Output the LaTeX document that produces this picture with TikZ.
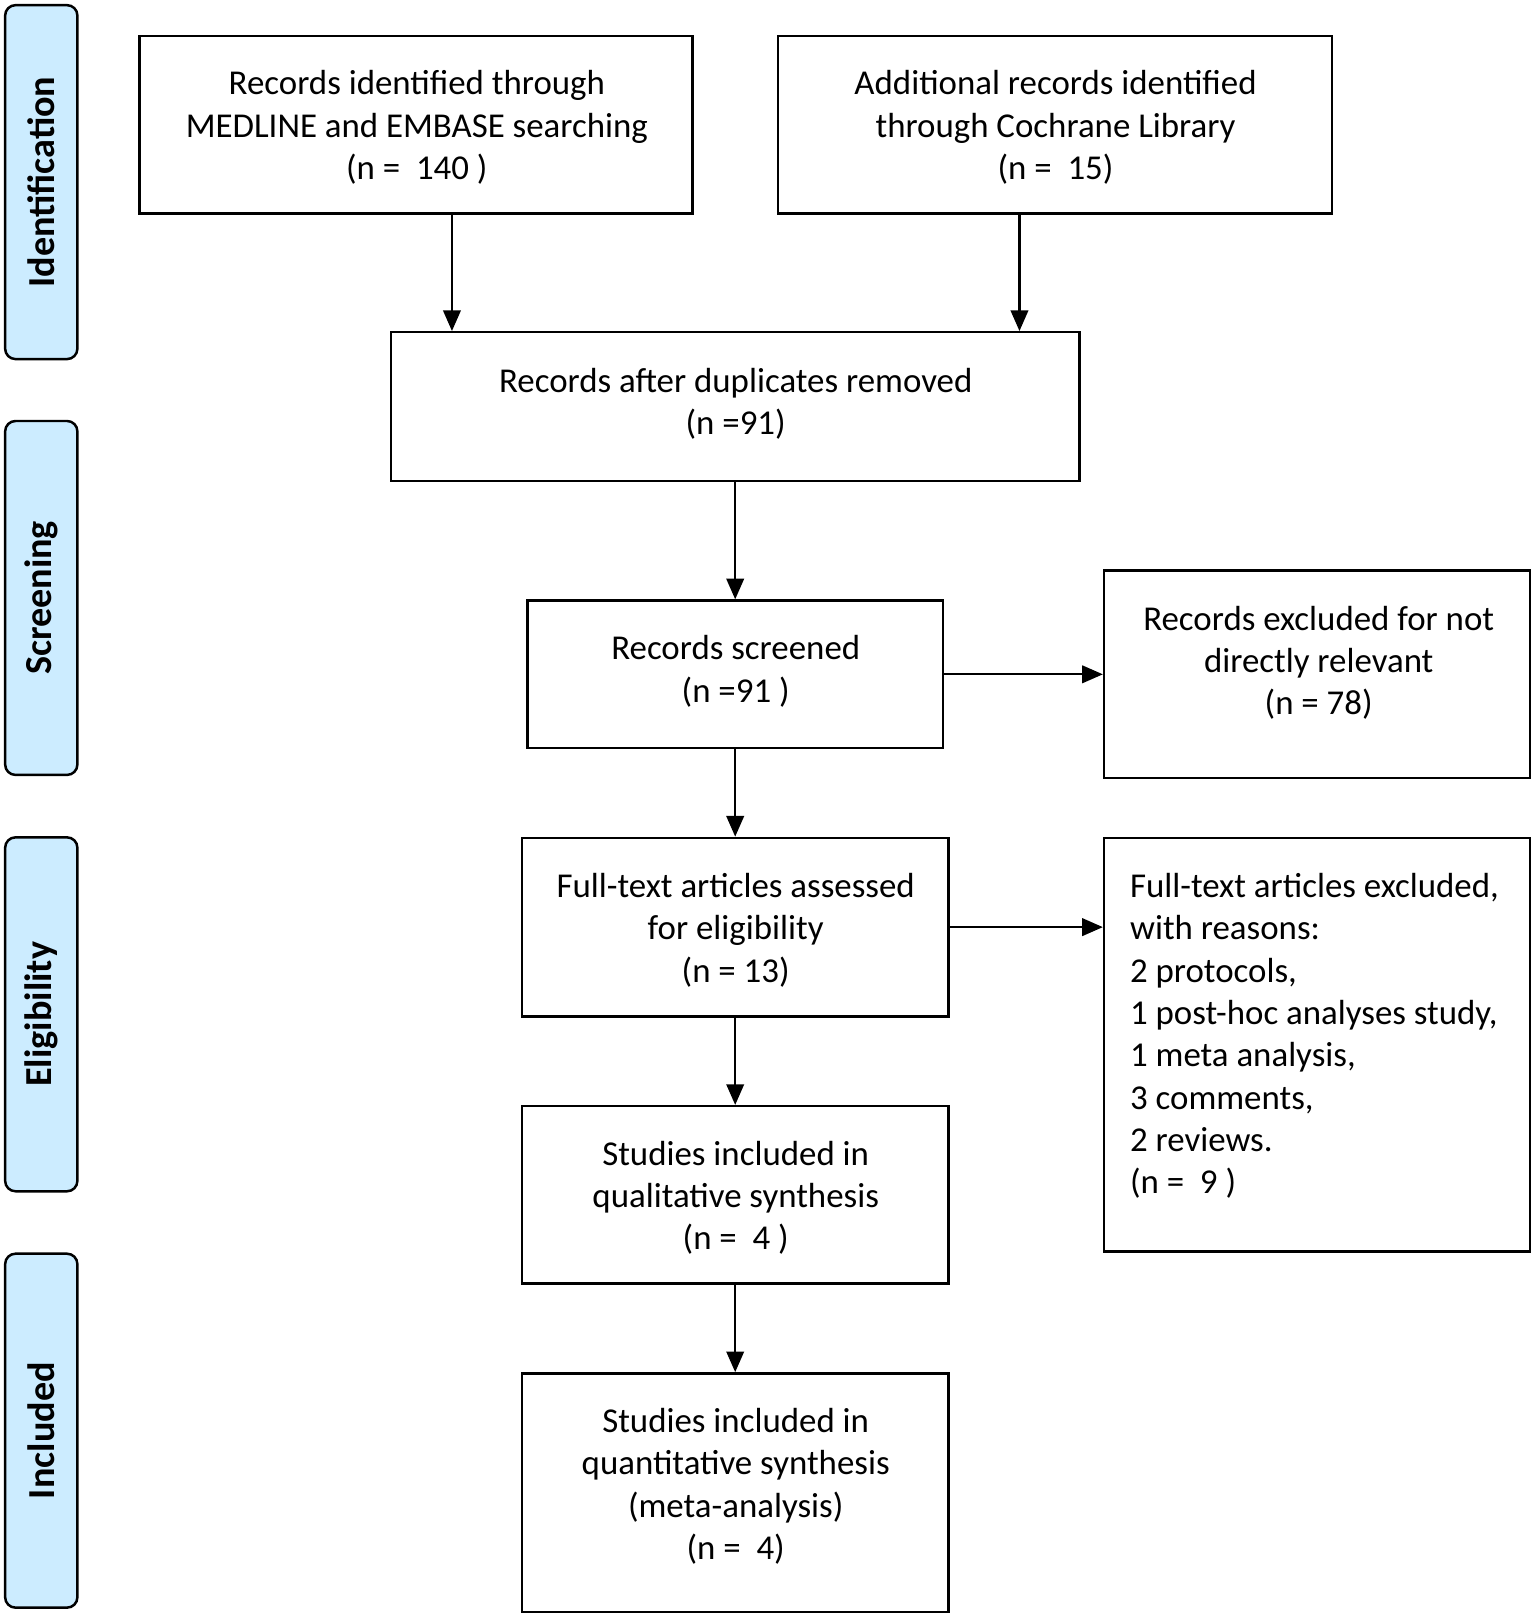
\documentclass[tikz,border=0pt]{standalone}
\usepackage{fontspec}
\setmainfont{Carlito}
\usetikzlibrary{arrows.meta}
\definecolor{sideblue}{RGB}{204,236,255}
\begin{document}
\begin{tikzpicture}[x=1pt,y=-1pt,
  box/.style={draw,line width=2.4pt,inner sep=0pt,rectangle},
  txt/.style={inner sep=0pt,align=center,font=\fontsize{33.8pt}{41pt}\selectfont},
  ltxt/.style={inner sep=0pt,align=left,anchor=west,font=\fontsize{33.8pt}{41pt}\selectfont},
  side/.style={draw,line width=2.4pt,fill=sideblue,rounded corners=10pt,rotate=90,
    minimum width=343pt,minimum height=70pt,inner sep=0pt,
    font=\bfseries\fontsize{37pt}{44pt}\selectfont},
  arr/.style={line width=2pt,-{Triangle[length=20pt,width=17pt]}}]
\useasboundingbox (0,0) rectangle (1488,1570);
% side labels
\node[side] (s1) at (40,176.5) {Identification};
\node[side] (s2) at (40,579.5) {Screening};
\node[side] (s3) at (40,983) {Eligibility};
\node[side] (s4) at (40,1386.5) {Included};
% boxes
\node[box,minimum width=536pt,minimum height=172pt] (a) at (403,121) {};
\node[txt] (at) at (404,123.5) {Records identified through\\MEDLINE and EMBASE searching\\(n =\ \ 140 )};
\node[box,minimum width=537pt,minimum height=172pt] (b) at (1022.5,121) {};
\node[txt] (bt) at (1023,123.5) {Additional records identified\\through Cochrane Library\\(n =\ \ 15)};
\node[box,minimum width=667pt,minimum height=144pt] (c) at (712.5,394) {};
\node[txt] (ct) at (713,391.5) {Records after duplicates removed\\(n =91)};
\node[box,minimum width=403pt,minimum height=143pt] (d) at (712.5,653.5) {};
\node[txt] (dt) at (713,650.5) {Records screened\\(n =91 )};
\node[box,minimum width=413pt,minimum height=201pt] (e) at (1276.5,653.5) {};
\node[txt] (et) at (1278,642.5) {Records excluded for not\\directly relevant\\(n = 78)};
\node[box,minimum width=413pt,minimum height=173pt] (f) at (712.5,898.5) {};
\node[txt] (ft) at (713,901.5) {Full-text articles assessed\\for eligibility\\(n = 13)};
\node[box,minimum width=413pt,minimum height=401pt] (g) at (1276.5,1012.5) {};
\node[ltxt] (gt) at (1095,1004) {Full-text articles excluded,\\with reasons:\\2 protocols,\\1 post-hoc analyses study,\\1 meta analysis,\\3 comments,\\2 reviews.\\(n =\ \ 9 )};
\node[box,minimum width=413pt,minimum height=172pt] (h) at (712.5,1158) {};
\node[txt] (ht) at (713,1161) {Studies included in\\qualitative synthesis\\(n =\ \ 4 )};
\node[box,minimum width=413pt,minimum height=231pt] (i) at (712.5,1446.5) {};
\node[txt] (it) at (713,1440.5) {Studies included in\\quantitative synthesis\\(meta-analysis)\\(n =\ \ 4)};
% arrows
\draw[arr] ([xshift=35pt]a.south) -- ([xshift=35pt]a.south |- c.north);
\draw[arr] ([xshift=-34.5pt]b.south) -- ([xshift=-34.5pt]b.south |- c.north);
\draw[arr] (c.south) -- (d.north);
\draw[arr] (d.east) -- (d.east -| e.west);
\draw[arr] (d.south) -- (f.north);
\draw[arr] (f.east) -- (f.east -| g.west);
\draw[arr] (f.south) -- (h.north);
\draw[arr] (h.south) -- (i.north);
\end{tikzpicture}
\end{document}
